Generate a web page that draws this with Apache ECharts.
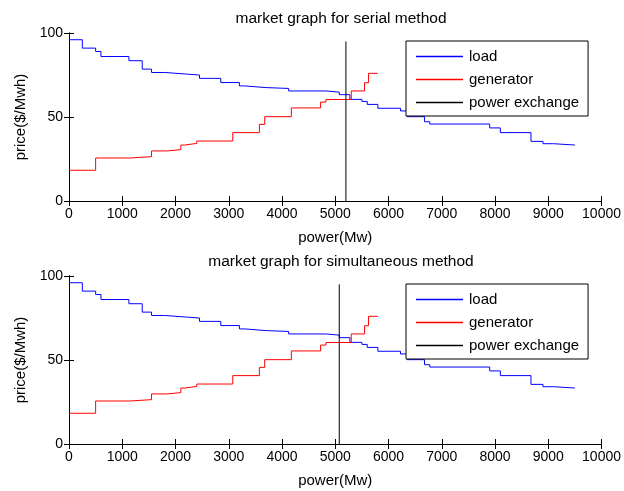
<!DOCTYPE html>
<html>
<head>
<meta charset="utf-8">
<script src="https://cdn.jsdelivr.net/npm/echarts@6/dist/echarts.min.js"></script>
<style>html,body{margin:0;padding:0;background:#fff}#c{width:624px;height:491px}</style>
</head>
<body>
<div id="c"></div>
<script>
// ---- data ----
var titles = ['market graph for serial method', 'market graph for simultaneous method'];
var seriesNames = ['load', 'generator', 'power exchange'];
var xTickInterval = 1000;
var xMin = 0, xMax = 10000;
var yTicks = [0, 50, 100];
// load (demand) step curve: start power of each step and its price
var loadX = [0, 250, 500, 600, 1125, 1375, 1550, 1800, 2225, 2450, 2850, 3200, 3300, 3700, 4125, 4825, 5075, 5275, 5500, 5600, 5800, 6225, 6350, 6675, 6775, 7900, 8100, 8675, 8900, 9100, 9500];
var loadY = [96, 91, 89, 86, 83.5, 78.5, 76.5, 75.5, 75, 73, 70.5, 68.5, 67.5, 67, 65.5, 64.8, 63.3, 60.5, 59.3, 57.5, 55.2, 53.6, 50.2, 47.2, 45.8, 43.5, 40.7, 35.5, 34.1, 33.3, 33.3];
// generator (supply) step curve
var genX = [0, 500, 1150, 1550, 1850, 2100, 2175, 2400, 3075, 3575, 3675, 4175, 4725, 4825, 5300, 5550, 5625, 5800];
var genY = [18.3, 25.6, 26.4, 29.8, 30.6, 33.3, 34.3, 35.7, 40.7, 45.6, 50.2, 55.4, 58.9, 60.4, 65.5, 70.4, 76, 76];
// power exchange vertical line: x position per chart, and top price
var exchangeX = [5200, 5075];
var exchangeTop = 95;
var seriesColors = ['#0000ff', '#ff0000', '#000000'];

// ---- build ----
function pairs(xs, ys) { return xs.map(function (x, i) { return [x, ys[i]]; }); }
var font = 'Liberation Sans, Arial, sans-serif';
var gridTops = [33, 276];
var grids = gridTops.map(function (t) { return { left: 69, right: 21, top: t, height: 168 }; });

var xAxes = [], yAxes = [], series = [], titleArr = [], legends = [];
gridTops.forEach(function (t, g) {
  xAxes.push({
    type: 'value', gridIndex: g, position: 'bottom', min: xMin, max: xMax, interval: xTickInterval,
    name: 'power(Mw)', nameLocation: 'middle', nameGap: 29,
    nameTextStyle: { fontFamily: font, fontSize: 15, color: '#000' },
    axisLine: { show: true, lineStyle: { color: '#000', width: 1 } },
    axisTick: { show: true, inside: true, length: 5, lineStyle: { color: '#000' } },
    axisLabel: { show: true, margin: 6, fontFamily: font, fontSize: 14, color: '#000', formatter: function (v) { return String(v); } },
    splitLine: { show: false }
  });
  xAxes.push({
    type: 'value', gridIndex: g, position: 'top', min: xMin, max: xMax, interval: xTickInterval,
    axisLine: { show: true, lineStyle: { color: '#000', width: 1 } },
    axisTick: { show: true, inside: true, length: 5, lineStyle: { color: '#000' } },
    axisLabel: { show: false }, splitLine: { show: false }
  });
  yAxes.push({
    type: 'value', gridIndex: g, position: 'left', min: yTicks[0], max: yTicks[yTicks.length - 1], interval: yTicks[1] - yTicks[0],
    name: 'price($/Mwh)', nameLocation: 'middle', nameGap: 33, nameRotate: 90,
    nameTextStyle: { fontFamily: font, fontSize: 15, color: '#000' },
    axisLine: { show: true, lineStyle: { color: '#000', width: 1 } },
    axisTick: { show: true, inside: true, length: 5, lineStyle: { color: '#000' } },
    axisLabel: { show: true, margin: 6, fontFamily: font, fontSize: 14, color: '#000' },
    splitLine: { show: false }
  });
  yAxes.push({
    type: 'value', gridIndex: g, position: 'right', min: yTicks[0], max: yTicks[yTicks.length - 1], interval: yTicks[1] - yTicks[0],
    axisLine: { show: true, lineStyle: { color: '#000', width: 1 } },
    axisTick: { show: true, inside: true, length: 5, lineStyle: { color: '#000' } },
    axisLabel: { show: false }, splitLine: { show: false }
  });
  var xi = g * 2, yi = g * 2;
  var lineData = [pairs(loadX, loadY), pairs(genX, genY), [[exchangeX[g], 0], [exchangeX[g], exchangeTop]]];
  seriesNames.forEach(function (n, k) {
    series.push({
      name: n, type: 'line', step: k < 2 ? 'end' : false, xAxisIndex: xi, yAxisIndex: yi,
      data: lineData[k], symbol: 'none', legendIcon: 'rect',
      color: seriesColors[k],
      lineStyle: { color: seriesColors[k], width: 1 }, itemStyle: { color: seriesColors[k] }, animation: false
    });
  });
  titleArr.push({
    text: titles[g], left: 336, top: t - 27, textAlign: 'center',
    textStyle: { fontFamily: font, fontSize: 15.5, fontWeight: 'normal', color: '#000' }
  });
  legends.push({
    orient: 'vertical', left: 406, top: t + 8, width: 186,
    padding: [8, 9, 6, 10], itemGap: 8, itemWidth: 47, itemHeight: 1.4, icon: 'rect',
    backgroundColor: '#fff', borderColor: '#000', borderWidth: 1,
    textStyle: { fontFamily: font, fontSize: 15, lineHeight: 15, color: '#000', padding: [0, 0, 0, 1] },
    data: seriesNames.slice(),
    selectedMode: false
  });
});

var chart = echarts.init(document.getElementById('c'), null, { renderer: 'canvas' });
chart.setOption({
  animation: false,
  backgroundColor: '#fff',
  title: titleArr,
  legend: legends,
  grid: grids,
  xAxis: xAxes,
  yAxis: yAxes,
  series: series
});
</script>
</body>
</html>
